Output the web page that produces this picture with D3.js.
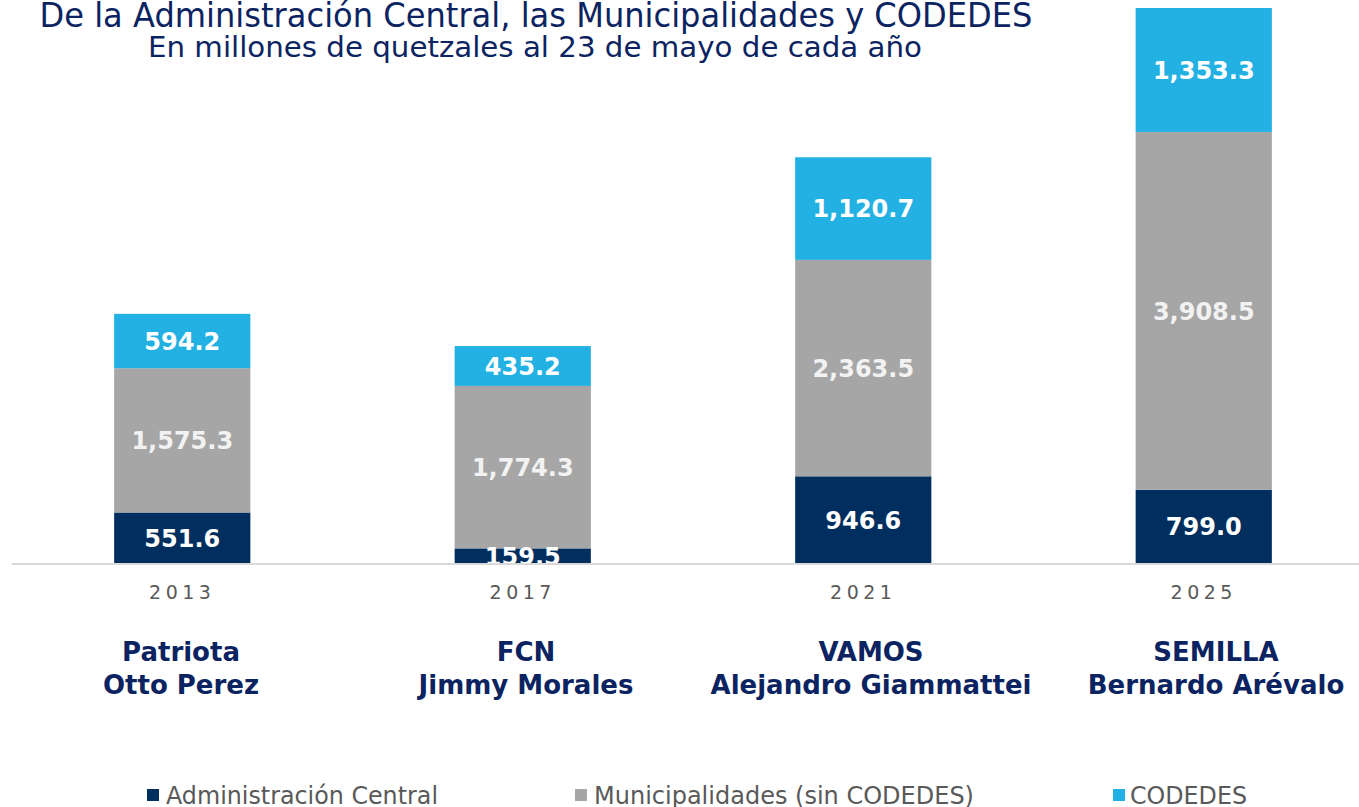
<!DOCTYPE html>
<html>
<head>
<meta charset="utf-8">
<script src="https://cdn.jsdelivr.net/npm/d3@7"></script>
<style>
  body { margin: 0; background: #fff; }
  svg { display: block; font-family: "DejaVu Sans", Verdana, sans-serif; }
</style>
</head>
<body>
<div id="chart"></div>
<script>
// Data
const years = ["2013", "2017", "2021", "2025"];
const parties = ["Patriota", "FCN", "VAMOS", "SEMILLA"];
const presidents = ["Otto Perez", "Jimmy Morales", "Alejandro Giammattei", "Bernardo Arévalo"];
const seriesNames = ["Administración Central", "Municipalidades (sin CODEDES)", "CODEDES"];
const adminCentral = [551.6, 159.5, 946.6, 799.0];
const municipalidades = [1575.3, 1774.3, 2363.5, 3908.5];
const codedes = [594.2, 435.2, 1120.7, 1353.3];

const colors = ["#002e5e", "#a6a6a6", "#23b0e3"];
const labelColors = ["#ffffff", "#f2f2f2", "#ffffff"];
const navy = "#0b2461";

const width = 1359;
const height = 807;

const svg = d3.select("#chart")
    .append("svg")
    .attr("width", width)
    .attr("height", height);

// Build rows for the stack
const rows = years.map((y, i) => ({
    year: y,
    s0: adminCentral[i],
    s1: municipalidades[i],
    s2: codedes[i]
}));
const stack = d3.stack().keys(["s0", "s1", "s2"]);
const series = stack(rows);

const x = d3.scaleBand()
    .domain(years)
    .range([12, 1374])
    .paddingInner(0.6)
    .paddingOuter(0.3);

// the party / president names sit on a slightly wider spacing than the bars
const xNames = d3.scalePoint()
    .domain(years)
    .range([181, 1216]);

const maxTotal = d3.max(rows, d => d.s0 + d.s1 + d.s2);
const y = d3.scaleLinear()
    .domain([0, maxTotal])
    .range([563, 8]);

// Bars
const groups = svg.selectAll("g.series")
    .data(series)
    .enter().append("g")
    .attr("class", "series")
    .attr("fill", (d, i) => colors[i]);

groups.selectAll("rect")
    .data(d => d)
    .enter().append("rect")
    .attr("x", d => x(d.data.year))
    .attr("y", d => y(d[1]))
    .attr("width", x.bandwidth())
    .attr("height", d => y(d[0]) - y(d[1]));

// Value labels in each segment
const fmt = d3.format(",.1f");
series.forEach((s, si) => {
    svg.selectAll("text.val" + si)
        .data(s)
        .enter().append("text")
        .attr("class", "val" + si)
        .attr("x", d => x(d.data.year) + x.bandwidth() / 2)
        .attr("y", d => (y(d[0]) + y(d[1])) / 2)
        .attr("dy", "0.37em")
        .attr("text-anchor", "middle")
        .attr("fill", labelColors[si])
        .style("font-size", "24px")
        .style("font-weight", "bold")
        .text(d => fmt(d[1] - d[0]));
});

// Baseline
svg.append("line")
    .attr("x1", 12)
    .attr("x2", width)
    .attr("y1", y(0) + 1)
    .attr("y2", y(0) + 1)
    .attr("stroke", "#d9d9d9")
    .attr("stroke-width", 2);

// Year tick labels
const spacing = 4.5;
svg.selectAll("text.year")
    .data(years)
    .enter().append("text")
    .attr("class", "year")
    .attr("x", d => x(d) + x.bandwidth() / 2)
    .attr("y", 599)
    .attr("text-anchor", "middle")
    .attr("fill", "#595959")
    .style("font-size", "19px")
    .style("letter-spacing", spacing + "px")
    .text(d => d);

// Party and president names
svg.selectAll("text.party")
    .data(years)
    .enter().append("text")
    .attr("class", "party")
    .attr("x", d => xNames(d))
    .attr("y", 661)
    .attr("text-anchor", "middle")
    .attr("fill", navy)
    .style("font-size", "26px")
    .style("font-weight", "bold")
    .text((d, i) => parties[i]);

svg.selectAll("text.pres")
    .data(years)
    .enter().append("text")
    .attr("class", "pres")
    .attr("x", d => xNames(d))
    .attr("y", 694)
    .attr("text-anchor", "middle")
    .attr("fill", navy)
    .style("font-size", "26px")
    .style("font-weight", "bold")
    .text((d, i) => presidents[i]);

// Titles
svg.append("text")
    .attr("x", 536)
    .attr("y", 27)
    .attr("text-anchor", "middle")
    .attr("fill", navy)
    .style("font-size", "34px")
    .attr("textLength", 993)
    .attr("lengthAdjust", "spacingAndGlyphs")
    .text("De la Administración Central, las Municipalidades y CODEDES");

svg.append("text")
    .attr("x", 535)
    .attr("y", 57)
    .attr("text-anchor", "middle")
    .attr("fill", navy)
    .style("font-size", "29px")
    .attr("textLength", 774)
    .attr("lengthAdjust", "spacingAndGlyphs")
    .text("En millones de quetzales al 23 de mayo de cada año");

// Legend
const legendX = [147, 575, 1113];
const legendW = [272, 380, 117];
const legend = svg.selectAll("g.legend")
    .data(seriesNames)
    .enter().append("g")
    .attr("class", "legend")
    .attr("transform", (d, i) => `translate(${legendX[i]},789)`);

legend.append("rect")
    .attr("width", 12)
    .attr("height", 12)
    .attr("fill", (d, i) => colors[i]);

legend.append("text")
    .attr("x", (d, i) => i === 2 ? 17 : 19)
    .attr("y", 15)
    .attr("fill", "#595959")
    .style("font-size", "25px")
    .attr("textLength", (d, i) => legendW[i])
    .attr("lengthAdjust", "spacingAndGlyphs")
    .text(d => d);
</script>
</body>
</html>
